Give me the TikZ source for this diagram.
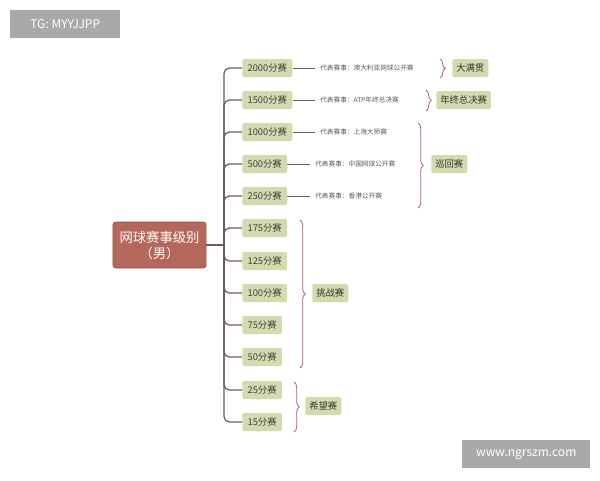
\documentclass[tikz,border=0pt]{standalone}
\usepackage{fontspec}
\setmainfont{Noto Sans CJK SC}
\usetikzlibrary{decorations.pathreplacing}
\definecolor{boxg}{HTML}{D2DBAE}
\definecolor{rootc}{HTML}{B5675C}
\definecolor{linec}{HTML}{6E5A5A}
\definecolor{bracec}{HTML}{A8606A}
\definecolor{wm}{HTML}{A9A9A9}
\begin{document}
\begin{tikzpicture}[x=0.75pt,y=-0.75pt,
  lvl/.style={fill=boxg,rounded corners=1.5pt,minimum height=13.5pt,inner xsep=4pt,anchor=west,font=\fontsize{7}{8}\selectfont,text=black!75},
  rep/.style={anchor=west,font=\fontsize{5}{6}\selectfont,text=black!65,inner sep=0pt},
  grp/.style={fill=boxg,rounded corners=1.5pt,minimum height=13.5pt,inner xsep=3pt,anchor=west,font=\fontsize{7}{8}\selectfont,text=black!80},
  conn/.style={draw=linec,line width=0.9pt},
  br/.style={draw=bracec,line width=0.6pt,decorate,decoration={brace,amplitude=4pt}}]
\useasboundingbox (0,0) rectangle (600,480);
\node[fill=wm,minimum width=82.5pt,minimum height=21pt,text=white,font=\fontsize{9}{10}\selectfont,anchor=north west,inner xsep=4pt] (tg) at (10,10) {TG: MYYJJPP};
\node[fill=wm,minimum width=96pt,minimum height=21pt,text=white,font=\fontsize{9}{10}\selectfont,anchor=north west] (ww) at (462,440) {www.ngrszm.com};
\node[fill=rootc,draw=rootc!80!black,rounded corners=2pt,minimum width=70pt,minimum height=34.5pt,text=white,font=\fontsize{10}{12}\selectfont,align=center] (root) at (159.5,245) {网球赛事级别\\（男）};
\coordinate (tk) at (224,245);
\draw[conn] (root.east) -- (tk);
\foreach \n/\t/\y in {a/2000分赛/68,b/1500分赛/100,c/1000分赛/132,d/500分赛/164,e/250分赛/196,f/175分赛/228,g/125分赛/261,h/100分赛/293,i/75分赛/325,j/50分赛/357,k/25分赛/390,l/15分赛/422}{
  \node[lvl] (\n) at (242,\y) {\t};
  \draw[conn,rounded corners=4pt] (tk) -- (224,\y) -- (\n.west);
}
\foreach \n/\t/\x in {a/代表赛事：澳大利亚网球公开赛/320,b/代表赛事：ATP年终总决赛/320,c/代表赛事：上海大师赛/320,d/代表赛事：中国网球公开赛/315,e/代表赛事：香港公开赛/315}{
  \node[rep] (r\n) at (\x,0 |- \n) {\t};
  \draw[conn,line width=0.6pt] (\n.east) -- ([xshift=-4pt]r\n.west);
}
\draw[br] (440,59) -- (440,78) coordinate[midway,xshift=4pt] (m1);
\node[grp] (g1) at (452,68) {大满贯};
\draw[br] (426,90) -- (426,111);
\node[grp] (g2) at (436,100) {年终总决赛};
\draw[br] (418,123) -- (418,208);
\node[grp] (g3) at (431,164) {巡回赛};
\draw[br] (300,220) -- (300,368);
\node[grp] (g4) at (312,293) {挑战赛};
\draw[br] (294,382) -- (294,432);
\node[grp] (g5) at (305,406) {希望赛};
\end{tikzpicture}
\end{document}
